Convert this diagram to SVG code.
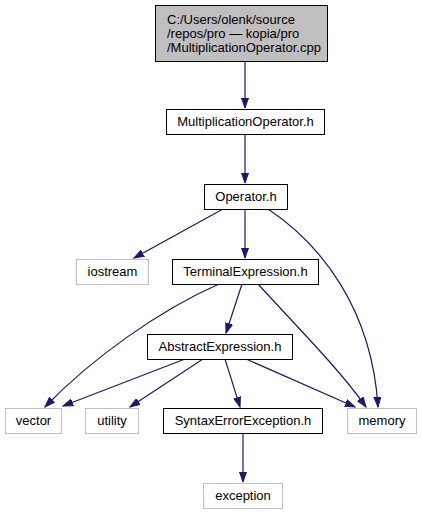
<svg xmlns="http://www.w3.org/2000/svg" width="421" height="515" viewBox="0 0 421 515">
<style>
text{font-family:"Liberation Sans",Arial,sans-serif;font-size:13px;fill:#000}
.c{text-anchor:middle}
.n rect{fill:#fff;stroke:#000;stroke-width:1}
.g rect{fill:#fff;stroke:#bfbfbf;stroke-width:1}
.e path{fill:none;stroke:#191970;stroke-width:1.2;marker-end:url(#a)}
</style>
<defs>
<marker id="a" markerUnits="userSpaceOnUse" markerWidth="11" markerHeight="8" refX="10" refY="4" orient="auto">
<path d="M0,0.5 L10,4 L0,7.5 z" fill="#191970" stroke="#191970" stroke-width="1"/>
</marker>
</defs>
<g class="e" id="edges">
<path d="M245,61 L245,108"/>
<path d="M245,134 L245,183"/>
<path d="M223,209 L134,258"/>
<path d="M245,209 L245,258"/>
<path d="M268,209 C322,245 372,310 378,407"/>
<path d="M219,284 C160,310 92,358 45,407"/>
<path d="M242,284 L226,333"/>
<path d="M258,284 C300,330 340,370 366,407"/>
<path d="M185,359 L63,406"/>
<path d="M203,359 L130,407"/>
<path d="M225,359 L240,407"/>
<path d="M246,359 L355,407"/>
<path d="M243,433 L243,482"/>
</g>
<g id="node_main"><rect x="155.5" y="5.5" width="172" height="56" fill="#bfbfbf" stroke="#000"/>
<text x="167" y="24">C:/Users/olenk/source</text>
<text x="167" y="38">/repos/pro — kopia/pro</text>
<text x="167" y="52">/MultiplicationOperator.cpp</text></g>
<g class="n" id="node_multop"><rect x="166.5" y="109.5" width="158" height="25"/><text class="c" x="245.5" y="126">MultiplicationOperator.h</text></g>
<g class="n" id="node_operator"><rect x="204.5" y="184.5" width="83" height="25"/><text class="c" x="246" y="201">Operator.h</text></g>
<g class="g" id="node_iostream"><rect x="76.5" y="259.5" width="72" height="25"/><text class="c" x="112.5" y="276">iostream</text></g>
<g class="n" id="node_terminal"><rect x="172.5" y="259.5" width="146" height="25"/><text class="c" x="245.5" y="276">TerminalExpression.h</text></g>
<g class="n" id="node_abstract"><rect x="147.5" y="334.5" width="145" height="25"/><text class="c" x="220" y="351">AbstractExpression.h</text></g>
<g class="g" id="node_vector"><rect x="5.5" y="408.5" width="56" height="25"/><text class="c" x="33.5" y="425">vector</text></g>
<g class="g" id="node_utility"><rect x="85.5" y="408.5" width="53" height="25"/><text class="c" x="112" y="425">utility</text></g>
<g class="n" id="node_syntax"><rect x="163.5" y="408.5" width="159" height="25"/><text class="c" x="243" y="425">SyntaxErrorException.h</text></g>
<g class="g" id="node_memory"><rect x="347.5" y="408.5" width="69" height="25"/><text class="c" x="382" y="425">memory</text></g>
<g class="g" id="node_exception"><rect x="203.5" y="483.5" width="79" height="25"/><text class="c" x="243" y="500">exception</text></g>
</svg>
